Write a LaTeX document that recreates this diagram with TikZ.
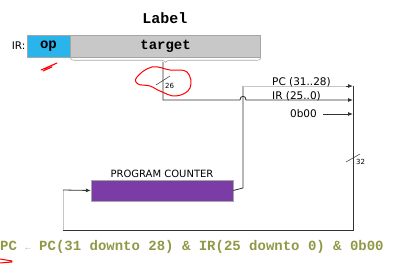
\documentclass[tikz,border=0pt]{standalone}
\usepackage{fontspec}
\setmainfont{DejaVu Sans}
\newfontfamily\codefont{Liberation Mono}
\usetikzlibrary{arrows.meta, decorations.pathreplacing}

\definecolor{opblue}{RGB}{41,181,236}
\definecolor{fieldgray}{RGB}{200,200,200}
\definecolor{pcpurple}{RGB}{124,60,166}
\definecolor{rtlgreen}{RGB}{145,152,70}
\definecolor{wiregray}{RGB}{50,50,50}

\begin{document}
\begin{tikzpicture}[
  x=1pt, y=1pt,
  wire/.style={draw=wiregray, line width=0.8pt},
  lightwire/.style={draw=gray!45, line width=0.9pt},
  feed/.style={wire, -{Latex[length=5pt,width=4pt]}},
  field/.style={draw=gray!70, line width=0.6pt, minimum height=22pt,
    inner sep=0pt, font=\codefont\bfseries\fontsize{14}{14}\selectfont},
  sig/.style={font=\fontsize{10.5}{10.5}\selectfont, inner sep=1pt},
  busw/.style={font=\fontsize{7}{7}\selectfont, inner sep=1pt},
  scribble/.style={draw=red, line width=1pt, line cap=round, line join=round},
]
  \useasboundingbox (0,0) rectangle (416,-267);

  % instruction register fields
  \node[field, fill=opblue, minimum width=43pt] (op) at (48.5,-46) {op};
  \node[field, fill=fieldgray, minimum width=190pt, anchor=west] (target) at (op.east) {target};
  \node[sig, anchor=east] (irlbl) at (op.west) {IR:};
  \node[font=\codefont\bfseries\fontsize{15}{15}\selectfont] (title) at (165,-18) {Label};

  % brace under the target field
  \draw[draw=gray!70, line width=0.6pt, decorate, decoration={brace, mirror, amplitude=4pt}]
    ([yshift=-1pt]target.south west) -- ([yshift=-1pt]target.south east);
  \coordinate (tgt) at (163,-62);

  % program counter
  \node[draw=gray!70, fill=pcpurple, minimum width=142pt, minimum height=21pt, inner sep=0pt]
    (pc) at (162,-190.5) {};
  \node[sig, font=\fontsize{10}{10}\selectfont, above=1pt] (pclbl) at (pc.north) {PROGRAM COUNTER};

  % concatenation bar and its inputs
  \coordinate (inPC) at (353,-86);
  \coordinate (inIR) at (353,-100);
  \coordinate (inZ)  at (353,-114);
  \coordinate (cat)  at (353,-230);
  \coordinate (up)   at (243,-188);

  \draw[wire] (inPC) -- (cat) -- (63,-230);
  \draw[lightwire] (63,-230) -- (63,-190);
  \draw[feed] (63,-190) -- (pc.west);

  % PC(31..28)
  \draw[wire] (pc.east) -- (up) -- (243,-86);
  \draw[lightwire] (243,-86) -- (348,-86);
  \draw[feed] (346,-86) -- (inPC);

  % IR(25..0), hopping over the PC wire
  \draw[feed] (tgt) -- (163,-100) -- (240,-100)
    .. controls (240,-95) and (246,-95) .. (246,-100) -- (inIR);

  % constant 0b00
  \node[sig, anchor=east] (zero) at (318,-114) {0b00};
  \draw[feed] ([xshift=5pt]zero.east) -- (inZ);

  \node[sig, anchor=south west] (pcbits) at (271,-88) {PC (31..28)};
  \node[sig, anchor=south west] (irbits) at (271,-102) {IR (25..0)};

  % bus widths
  \draw[wire, line width=0.5pt] (156,-85) -- (170,-76);
  \node[busw, anchor=north west] (w26) at (164,-82) {26};
  \draw[wire, line width=0.5pt] (346,-162) -- (360,-154);
  \node[busw, anchor=north west] (w32) at (355,-158) {32};

  % register transfer
  \node[anchor=west, inner sep=0pt, text=rtlgreen, font=\codefont\bfseries\fontsize{14}{14}\selectfont]
    (rtl) at (0,-247) {PC {\color{gray!60}\fontsize{9}{9}\selectfont←} PC(31 downto 28) \& IR(25 downto 0) \& 0b00};

  % red pen marks
  \draw[scribble] plot[smooth cycle, tension=0.7] coordinates
    {(137,-77) (152,-67) (170,-70) (187,-72) (190,-88) (176,-96) (160,-91) (150,-86) (138,-84)};
  \draw[scribble] (41,-70) -- (57,-63) (44,-69) -- (55,-64) (43,-71) -- (52,-67);
  \draw[scribble] (0,-259) -- (12,-261) (0,-263) -- (12,-262);
\end{tikzpicture}
\end{document}
